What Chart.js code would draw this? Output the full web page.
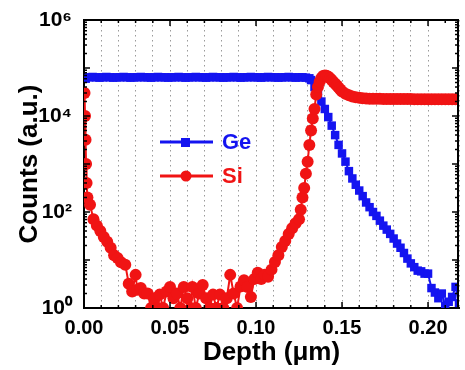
<!DOCTYPE html>
<html>
<head>
<meta charset="utf-8">
<script src="https://cdn.jsdelivr.net/npm/chart.js@4"></script>
<style>
  html, body { margin: 0; padding: 0; background: #fff; overflow: hidden; }
  canvas { display: block; }
</style>
</head>
<body>
<canvas id="c" width="465" height="370"></canvas>
<script>
// depth in um, counts in a.u.
const geDepth = [
  0.001, 0.003, 0.005, 0.007, 0.009, 0.011, 0.013, 0.015, 0.017, 0.019,
  0.021, 0.023, 0.025, 0.027, 0.029, 0.031, 0.033, 0.035, 0.037, 0.039,
  0.041, 0.043, 0.045, 0.047, 0.049, 0.051, 0.053, 0.055, 0.057, 0.059,
  0.061, 0.063, 0.065, 0.067, 0.069, 0.071, 0.073, 0.075, 0.077, 0.079,
  0.081, 0.083, 0.085, 0.087, 0.089, 0.091, 0.093, 0.095, 0.097, 0.099,
  0.101, 0.103, 0.105, 0.107, 0.109, 0.111, 0.113, 0.115, 0.117, 0.119,
  0.121, 0.123, 0.125, 0.127, 0.129, 0.131,
  0.132, 0.134, 0.136, 0.138, 0.140, 0.142, 0.144, 0.146, 0.148, 0.150,
  0.152, 0.154, 0.156, 0.158, 0.160, 0.162, 0.164, 0.166, 0.168, 0.170,
  0.172, 0.174, 0.176, 0.178, 0.180, 0.182, 0.184, 0.186, 0.188, 0.190,
  0.192, 0.194, 0.196, 0.198, 0.200, 0.202, 0.204, 0.206, 0.208, 0.210,
  0.212, 0.214, 0.216, 0.218
];
const geCounts = [
  60000, 64000, 65000, 64000, 63000, 64000, 65000, 64000, 63000, 64000,
  64000, 65000, 64000, 63000, 64000, 64000, 65000, 64000, 64000, 63000,
  64000, 65000, 64000, 64000, 63000, 64000, 64000, 65000, 64000, 63000,
  64000, 64000, 65000, 64000, 64000, 63000, 64000, 65000, 64000, 64000,
  63000, 64000, 64000, 65000, 64000, 63000, 64000, 64000, 65000, 64000,
  64000, 63000, 64000, 65000, 64000, 64000, 63000, 64000, 64000, 65000,
  64000, 63000, 64000, 64000, 63000, 61000,
  56000, 40000, 28000, 20000, 14000, 9500, 6300, 4000, 2500, 1660,
  1120, 710, 500, 370, 280, 214, 158, 126, 100, 83,
  66, 52, 43, 35, 28, 22, 18, 14, 10.7, 8.5,
  7.1, 6.0, 5.8, 5.2, 5.2, 2.6, 2.1, 1.6, 2.0, 1.1,
  1.35, 1.7, 2.75, 1.25
];

const siDepth = [
  0.0003, 0.0006, 0.0009, 0.0012, 0.0015, 0.0020, 0.0035, 0.0055, 0.0075, 0.0095,
  0.0115, 0.0135, 0.0155, 0.0175, 0.0195, 0.0215, 0.024, 0.026, 0.028, 0.030,
  0.031, 0.033, 0.035, 0.037, 0.039, 0.041, 0.043, 0.044, 0.046, 0.048,
  0.050, 0.052, 0.054, 0.056, 0.058, 0.060, 0.062, 0.063, 0.065, 0.067,
  0.069, 0.071, 0.073, 0.075, 0.077, 0.079, 0.081, 0.083, 0.085, 0.087,
  0.089, 0.091, 0.093, 0.095, 0.097, 0.099, 0.101, 0.103, 0.105, 0.107,
  0.109, 0.111, 0.113, 0.115, 0.117, 0.119, 0.121, 0.123, 0.125, 0.126,
  0.127, 0.128, 0.129, 0.130, 0.131, 0.132, 0.133, 0.134, 0.135, 0.136,
  0.137, 0.138, 0.139, 0.140, 0.141, 0.142, 0.143, 0.144, 0.145, 0.146,
  0.147, 0.148, 0.149, 0.150, 0.152, 0.154, 0.156, 0.158, 0.160, 0.162,
  0.164, 0.166, 0.168, 0.170, 0.172, 0.174, 0.176, 0.178, 0.180, 0.182,
  0.184, 0.186, 0.188, 0.190, 0.192, 0.194, 0.196, 0.198, 0.200, 0.202,
  0.204, 0.206, 0.208, 0.210, 0.212, 0.214, 0.216, 0.218
];
const siCounts = [
  30000, 10000, 3200, 1000, 400, 200, 141, 71, 52, 40,
  30, 24, 18, 12.6, 11, 9, 8, 3.2, 2.2, 4.9,
  2.4, 2.6, 2, 2, 1, 1.6, 1, 1.9, 1, 2.2,
  2.75, 1.6, 2, 1, 2.75, 1.6, 1, 2.75, 1, 2,
  3, 1.6, 1, 1.9, 1, 1.9, 1, 1.6, 4.9, 2,
  1, 2.8, 3.8, 2.75, 1.7, 4, 5.4, 4, 4.9, 4.5,
  6.3, 9.1, 12.6, 18.6, 25, 35, 46, 58, 71, 112,
  200, 316, 630, 1120, 2500, 5000, 8900, 14000, 28000, 40000,
  52000, 62000, 68000, 70000, 69000, 66000, 61000, 56000, 51000, 47000,
  43000, 39000, 35500, 32500, 29000, 27000, 25500, 24500, 24000, 23500,
  23200, 23000, 23000, 22800, 22800, 22700, 22700, 22600, 22600, 22600,
  22500, 22500, 22500, 22500, 22400, 22400, 22400, 22400, 22400, 22400,
  22400, 22400, 22400, 22400, 22400, 22400, 22400, 22400
];

const yTickValues = [1, 100, 10000, 1000000];
const yTickLabels = ['10\u2070', '10\u00b2', '10\u2074', '10\u2076'];
const xTickLabels = ['0.00', '0.05', '0.10', '0.15', '0.20'];

const BLUE = '#1414f0';
const RED = '#f01414';
const FONT = '"Liberation Sans", Arial, sans-serif';

const pts = (xs, ys) => xs.map((x, i) => ({ x: x, y: ys[i] }));

// frame on top / right, inward tick marks and the in-plot legend
const framePlugin = {
  id: 'frame',
  afterDraw(chart) {
    const { ctx, chartArea: a, scales } = chart;
    const xs = scales.x, ys = scales.y;
    ctx.save();
    ctx.strokeStyle = '#000';
    ctx.lineWidth = 2;
    ctx.beginPath();
    ctx.moveTo(a.left, a.top);
    ctx.lineTo(a.right - 1, a.top);
    ctx.lineTo(a.right - 1, a.bottom);
    ctx.stroke();

    ctx.lineWidth = 1.5;
    ctx.beginPath();
    for (let i = 0; i <= 21; i++) {
      const px = xs.getPixelForValue(i / 100);
      const len = i % 5 === 0 ? 6 : 3;
      ctx.moveTo(px, a.bottom);
      ctx.lineTo(px, a.bottom - len);
      ctx.moveTo(px, a.top);
      ctx.lineTo(px, a.top + len);
    }
    for (let e = 0; e < 6; e++) {
      for (let m = 1; m < 10; m++) {
        const py = ys.getPixelForValue(m * Math.pow(10, e));
        const len = m === 1 ? 6 : 3;
        ctx.moveTo(a.left, py);
        ctx.lineTo(a.left + len, py);
        ctx.moveTo(a.right - 1, py);
        ctx.lineTo(a.right - 1 - len, py);
      }
    }
    ctx.stroke();

    const rows = [
      { text: 'Ge', color: BLUE, style: 'rect', y: 142 },
      { text: 'Si', color: RED, style: 'circle', y: 176 }
    ];
    ctx.font = 'bold 22px ' + FONT;
    ctx.textBaseline = 'middle';
    rows.forEach(r => {
      ctx.strokeStyle = r.color;
      ctx.fillStyle = r.color;
      ctx.lineWidth = 3;
      ctx.beginPath();
      ctx.moveTo(160, r.y);
      ctx.lineTo(213, r.y);
      ctx.stroke();
      if (r.style === 'rect') {
        ctx.fillRect(181, r.y - 4, 9, 9);
      } else {
        ctx.beginPath();
        ctx.arc(186, r.y, 5.5, 0, Math.PI * 2);
        ctx.fill();
      }
      ctx.fillText(r.text, 222, r.y + 1);
    });
    ctx.restore();
  }
};

new Chart(document.getElementById('c'), {
  type: 'line',
  data: {
    datasets: [
      {
        label: 'Ge',
        data: pts(geDepth, geCounts),
        borderColor: BLUE,
        backgroundColor: BLUE,
        borderWidth: 2,
        pointStyle: 'rect',
        pointRadius: 6,
        pointBorderWidth: 0,
        order: 1
      },
      {
        label: 'Si',
        data: pts(siDepth, siCounts),
        borderColor: RED,
        backgroundColor: RED,
        borderWidth: 2,
        pointStyle: 'circle',
        pointRadius: 6,
        pointBorderWidth: 0,
        order: 0
      }
    ]
  },
  options: {
    responsive: false,
    animation: false,
    layout: { padding: { top: 20, right: -3, left: 0, bottom: 0 } },
    plugins: {
      legend: { display: false },
      tooltip: { enabled: false }
    },
    scales: {
      x: {
        type: 'linear',
        min: 0,
        max: 0.218,
        afterFit: s => {
          s.height = 62;
          s.paddingLeft = 0;
          s.paddingRight = 0;
        },
        grid: {
          color: '#9a9a9a',
          lineWidth: 1,
          drawTicks: false
        },
        border: { display: true, color: '#000', width: 2, dash: [1.5, 3.5] },
        ticks: {
          stepSize: 0.01,
          autoSkip: false,
          maxRotation: 0,
          padding: 8,
          color: '#000',
          font: { family: FONT, size: 20, weight: 'bold' },
          callback: v => {
            const k = Math.round(v * 100);
            return k % 5 === 0 ? xTickLabels[k / 5] : '';
          }
        },
        title: {
          display: true,
          text: 'Depth (\u03bcm)',
          color: '#000',
          font: { family: FONT, size: 26, weight: 'bold' },
          padding: { top: 0, bottom: 2 }
        }
      },
      y: {
        type: 'logarithmic',
        min: 1,
        max: 1000000,
        afterFit: s => { s.width = 84; },
        afterBuildTicks: s => { s.ticks = yTickValues.map(v => ({ value: v })); },
        grid: { display: false },
        border: { display: true, color: '#000', width: 2 },
        ticks: {
          padding: 4,
          color: '#000',
          font: { family: FONT, size: 21, weight: 'bold' },
          callback: v => yTickLabels[yTickValues.indexOf(v)]
        },
        title: {
          display: true,
          text: 'Counts (a.u.)',
          color: '#000',
          font: { family: FONT, size: 26, weight: 'bold' },
          padding: { top: 14, bottom: 0 }
        }
      }
    }
  },
  plugins: [framePlugin]
});
</script>
</body>
</html>
